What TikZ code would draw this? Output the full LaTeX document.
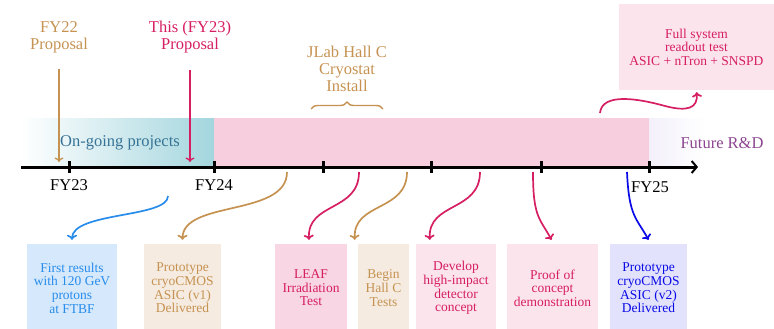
\documentclass[tikz,border=0pt]{standalone}
\usepackage{fontspec}
\setmainfont{Liberation Serif}
\usetikzlibrary{arrows.meta,decorations.pathreplacing,calc}
\definecolor{tanc}{RGB}{198,146,82}
\definecolor{crim}{RGB}{214,30,98}
\definecolor{skyb}{RGB}{40,140,235}
\definecolor{deepb}{RGB}{10,10,230}
\definecolor{tealband}{RGB}{164,214,222}
\definecolor{tealtxt}{RGB}{55,115,150}
\definecolor{pinkband}{RGB}{247,206,222}
\definecolor{pinkbox}{RGB}{248,214,228}
\definecolor{pinklite}{RGB}{251,228,236}
\definecolor{beige}{RGB}{245,235,224}
\definecolor{bluebox}{RGB}{214,233,252}
\definecolor{lavbox}{RGB}{226,226,252}
\definecolor{purp}{RGB}{140,70,145}
\definecolor{lavfaint}{RGB}{243,240,250}
\begin{document}
\begin{tikzpicture}[x=1pt,y=-1pt,
  big/.style={font=\fontsize{16.5}{17}\selectfont, align=center, inner sep=0pt},
  small/.style={font=\fontsize{13.5}{13.6}\selectfont, align=center, inner sep=0pt},
  box/.style={small, minimum height=88pt},
  conn/.style={line width=1.7pt, -{To[length=5pt,width=10pt]}},
  topconn/.style={line width=1.3pt, -{To[length=4.5pt,width=9pt]}},
  tick/.style={line width=3pt},
  axis/.style={line width=3pt, -{Straight Barb[length=5pt,width=12pt,line width=2pt]}}]
\useasboundingbox (0,0) rectangle (774,329);
% bands
\shade[left color=white, right color=tealband] (20,118) rectangle (214,167);
\fill[pinkband] (214,118) rectangle (649,167);
\shade[left color=lavfaint, right color=white] (649,118) rectangle (705,167);
\node[big, text=tealtxt] (ongoing) at (120,143) {On-going projects};
\node[big, text=purp] (future) at (722,143) {Future R\&D};
% axis
\coordinate (ax0) at (21,167);
\coordinate (ax1) at (698,167);
\draw[axis] (ax0) -- (ax1);
\foreach \x/\n in {69/t23,214/t24,323/tq1,431/tq2,541/tq3,649/t25}{
  \coordinate (\n) at (\x,167);
  \draw[tick] ($(\n)+(0,-6)$) -- ($(\n)+(0,6)$);
}
\node[big] (l23) at (69,185) {FY23};
\node[big] (l24) at (214,185) {FY24};
\node[big] (l25) at (650,187) {FY25};
% top labels
\node[big, text=tanc] (fy22) at (59,37.5) {FY22\\Proposal};
\node[big, text=crim] (fy23) at (190,37.5) {This (FY23)\\Proposal};
\node[big, text=tanc] (jlab) at (347,69) {JLab Hall C\\Cryostat\\Install};
\coordinate (p22) at (59,162);
\coordinate (p23) at (190,162);
\draw[topconn, tanc, shorten <=16pt] (fy22.south) -- (p22);
\draw[topconn, crim, shorten <=16pt] (fy23.south) -- (p23);
\coordinate (br0) at (311,109);
\coordinate (br1) at (383,109);
\draw[tanc, line width=1.4pt, decorate, decoration={brace, amplitude=7pt}] (br0) -- (br1);
% top right box
\node[small, fill=pinklite, text=crim, minimum width=155pt, minimum height=86pt] (full) at (696.5,47) {Full system\\readout test\\ASIC + nTron + SNSPD};
\coordinate (fs0) at (600,113);
\draw[conn, crim, shorten >=2pt] (fs0) .. controls (602,92) and (640,99) .. (665,106) .. controls (688,112) and (698,108) .. (full.south);
% bottom boxes
\node[box, fill=bluebox, text=skyb, minimum width=90pt] (b1) at (72,288) {First results\\with 120 GeV\\protons\\at FTBF};
\node[box, fill=beige, text=tanc, minimum width=77pt] (b2) at (182.5,288) {Prototype\\cryoCMOS\\ASIC (v1)\\Delivered};
\node[box, fill=pinkbox, text=crim, minimum width=72pt] (b3) at (311,288) {LEAF\\Irradiation\\Test};
\node[box, fill=beige, text=tanc, minimum width=51pt] (b4) at (383.5,288) {Begin\\Hall C\\Tests};
\node[box, fill=pinklite, text=crim, minimum width=80pt] (b5) at (456,288) {Develop\\high-impact\\detector\\concept};
\node[box, fill=pinklite, text=crim, minimum width=91pt] (b6) at (552.5,288) {Proof of\\concept\\demonstration};
\node[box, fill=lavbox, text=deepb, minimum width=77pt] (b7) at (648.5,288) {Prototype\\cryoCMOS\\ASIC (v2)\\Delivered};
% bottom connectors
\coordinate (s1) at (168,196);
\coordinate (s2) at (287,172);
\coordinate (s3) at (359,172);
\coordinate (s4) at (407,172);
\coordinate (s5) at (480,172);
\coordinate (s6) at (533,172);
\coordinate (s7) at (627,172);
\draw[conn, skyb] (s1) .. controls +(0,22) and +(0,-28) .. ($(b1.north)+(0,-4)$);
\draw[conn, tanc] (s2) .. controls +(0,45) and +(0,-40) .. ($(b2.north)+(0,-4)$);
\draw[conn, crim] (s3) .. controls +(0,40) and +(-2,-38) .. ($(b3.north)+(-2,-4)$);
\draw[conn, tanc] (s4) .. controls +(0,40) and +(-2,-38) .. ($(b4.north west)+(-3,-4)$);
\draw[conn, crim] (s5) .. controls +(0,40) and +(-2,-38) .. ($(b5.north west)+(14,-4)$);
\draw[conn, crim] (s6) .. controls +(0,45) and +(-12,-22) .. ($(b6.north)+(-1,-4)$);
\draw[conn, deepb] (s7) .. controls +(2,45) and +(-12,-22) .. ($(b7.north)+(0,-4)$);
\end{tikzpicture}
\end{document}
